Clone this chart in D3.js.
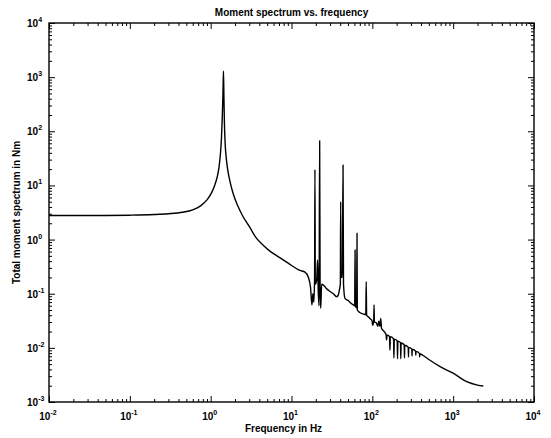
<!DOCTYPE html>
<html>
<head>
<meta charset="utf-8">
<script src="https://cdn.jsdelivr.net/npm/d3@7"></script>
<style>
  body { margin: 0; background: #fff; }
  text { font-family: "Liberation Sans", Arial, sans-serif; font-weight: bold; fill: #000; }
</style>
</head>
<body>
<div id="chart"></div>
<script>
var width  = 551;
var height = 438;
var margin = {top: 23, right: 17, bottom: 36, left: 49};

// tick labels (exponents of ten)
var xExponents = [-2, -1, 0, 1, 2, 3, 4];
var yExponents = [-3, -2, -1, 0, 1, 2, 3, 4];

// [frequency Hz, moment Nm]
var rigidBody = [
    [0.01, 2.78], [0.02, 2.78], [0.05, 2.79], [0.1, 2.82], [0.2, 2.9],
    [0.3, 3.0], [0.45, 3.2], [0.6, 3.55], [0.75, 4.2], [0.9, 5.4],
    [1.02, 7.2], [1.12, 10], [1.2, 14], [1.27, 22], [1.32, 38],
    [1.36, 75], [1.39, 170], [1.42, 500], [1.44, 1300], [1.46, 400],
    [1.48, 140], [1.51, 60], [1.56, 32], [1.63, 19], [1.73, 12],
    [1.9, 7.0], [2.15, 4.3], [2.5, 2.7], [3.0, 1.75], [3.7, 1.05],
    [4.5, 0.78], [5.5, 0.6], [6.9, 0.48], [9.0, 0.37], [12.7, 0.27]
];

var harmonics = [
    [14.7, 0.25], [16.2, 0.2], [17.2, 0.13], [17.9, 0.062], [18.4, 0.1],
    [18.9, 0.07], [19.3, 0.2], [19.5, 19.8], [19.7, 0.15], [20.5, 0.18],
    [21.0, 0.42], [21.4, 0.12], [21.9, 0.06], [22.3, 67], [22.6, 0.1],
    [23.0, 0.054], [23.6, 0.15], [24.8, 0.145], [27, 0.125], [30, 0.11],
    [32.9, 0.1], [36.2, 0.088], [38, 0.095], [39, 0.115], [40.2, 0.15],
    [40.6, 5.0], [41.0, 0.2], [42.5, 0.2], [43.4, 23.8], [44.0, 0.15],
    [45.9, 0.082], [50, 0.075], [55, 0.066], [58.2, 0.062], [60.5, 0.06],
    [61.1, 0.64], [61.7, 0.058], [64.0, 0.055], [64.6, 1.31], [65.2, 0.05],
    [70, 0.045], [78, 0.042], [83, 0.041], [84, 0.167], [85, 0.04],
    [90, 0.037], [95, 0.034], [99, 0.032], [101, 0.026], [104, 0.031],
    [105, 0.062], [106, 0.03], [112, 0.029], [117, 0.025], [120, 0.031],
    [124, 0.025], [127, 0.035], [130, 0.023], [140, 0.02]
];

var comb = [
    [148, 0.0175], [150, 0.0139], [152, 0.0172], [163, 0.0163], [165, 0.0091],
    [167, 0.0161], [183, 0.0147], [185, 0.0065], [187, 0.0145], [203, 0.0135],
    [205, 0.0063], [207, 0.0133], [223, 0.0125], [225, 0.0063], [227, 0.0123],
    [248, 0.0114], [250, 0.0065], [252, 0.0112], [278, 0.0103], [280, 0.0068],
    [282, 0.0102], [308, 0.0095], [310, 0.0071], [312, 0.0094], [343, 0.0087],
    [345, 0.0073], [347, 0.0086], [383, 0.0079], [385, 0.0068], [387, 0.0078]
];

var tail = [
    [420, 0.0073], [500, 0.0061], [690, 0.0045], [1000, 0.0034],
    [1470, 0.00237], [2000, 0.00205], [2360, 0.00197]
];

var spectrum = rigidBody.concat(harmonics, comb, tail);

var x = d3.scaleLog()
    .domain([1e-2, 1e4])
    .range([margin.left, width - margin.right]);

var y = d3.scaleLog()
    .domain([1e-3, 1e4])
    .range([height - margin.bottom, margin.top]);

var svg = d3.select("#chart")
    .append("svg")
    .attr("width", width)
    .attr("height", height);

var plotW = width - margin.left - margin.right;
var plotH = height - margin.top - margin.bottom;

// minor + major ticks, pointing inward, on all four sides
function tickAxis(axisFn, scale, values, size, transform) {
    svg.append("g")
        .attr("class", "axis")
        .attr("transform", transform)
        .call(axisFn(scale).tickValues(values).tickSize(size).tickFormat(""))
        .call(function(g) { g.select(".domain").remove(); })
        .selectAll("line").attr("stroke", "#000").attr("stroke-width", 1);
}

var xMajor = xExponents.map(function(e) { return Math.pow(10, e); });
var yMajor = yExponents.map(function(e) { return Math.pow(10, e); });
var xMinor = x.ticks().filter(function(d) { return xMajor.indexOf(d) < 0; });
var yMinor = y.ticks().filter(function(d) { return yMajor.indexOf(d) < 0; });

var bottomT = "translate(0," + (height - margin.bottom) + ")";
var topT    = "translate(0," + margin.top + ")";
var leftT   = "translate(" + margin.left + ",0)";
var rightT  = "translate(" + (width - margin.right) + ",0)";

tickAxis(d3.axisBottom, x, xMinor, -3, bottomT);
tickAxis(d3.axisBottom, x, xMajor, -6, bottomT);
tickAxis(d3.axisTop, x, xMinor, -3, topT);
tickAxis(d3.axisTop, x, xMajor, -6, topT);
tickAxis(d3.axisLeft, y, yMinor, -3, leftT);
tickAxis(d3.axisLeft, y, yMajor, -6, leftT);
tickAxis(d3.axisRight, y, yMinor, -3, rightT);
tickAxis(d3.axisRight, y, yMajor, -6, rightT);

// box
svg.append("rect")
    .attr("x", margin.left)
    .attr("y", margin.top)
    .attr("width", plotW)
    .attr("height", plotH)
    .attr("fill", "none")
    .attr("stroke", "#000")
    .attr("stroke-width", 1.4);

// tick labels
var xLab = svg.append("g").selectAll("text")
    .data(xExponents)
    .enter().append("text")
    .attr("x", function(d) { return x(Math.pow(10, d)) - 1; })
    .attr("y", height - margin.bottom + 18)
    .attr("text-anchor", "middle")
    .style("font-size", "10px");
xLab.append("tspan").text("10");
xLab.append("tspan").attr("dy", -5).style("font-size", "7px").text(function(d) { return d; });

var yLab = svg.append("g").selectAll("text")
    .data(yExponents)
    .enter().append("text")
    .attr("x", 27)
    .attr("y", function(d) { return y(Math.pow(10, d)) + 4; })
    .attr("text-anchor", "start")
    .style("font-size", "10px");
yLab.append("tspan").text("10");
yLab.append("tspan").attr("dy", -5).style("font-size", "7px").text(function(d) { return d; });

// titles
svg.append("text")
    .attr("x", margin.left + plotW / 2)
    .attr("y", 16)
    .attr("text-anchor", "middle")
    .style("font-size", "10px")
    .text("Moment spectrum vs. frequency");

svg.append("text")
    .attr("x", margin.left + plotW / 2 - 8)
    .attr("y", 432)
    .attr("text-anchor", "middle")
    .style("font-size", "10px")
    .text("Frequency in Hz");

svg.append("text")
    .attr("transform", "translate(20," + (margin.top + plotH / 2) + ") rotate(-90)")
    .attr("text-anchor", "middle")
    .style("font-size", "10px")
    .text("Total moment spectrum in Nm");

// curve
var line = d3.line()
    .curve(d3.curveMonotoneX)
    .x(function(d) { return x(d[0]); })
    .y(function(d) { return y(d[1]); });

svg.append("path")
    .datum(spectrum)
    .attr("d", line)
    .attr("fill", "none")
    .attr("stroke", "#000")
    .attr("stroke-width", 1.4)
    .attr("stroke-linejoin", "round");
</script>
</body>
</html>
